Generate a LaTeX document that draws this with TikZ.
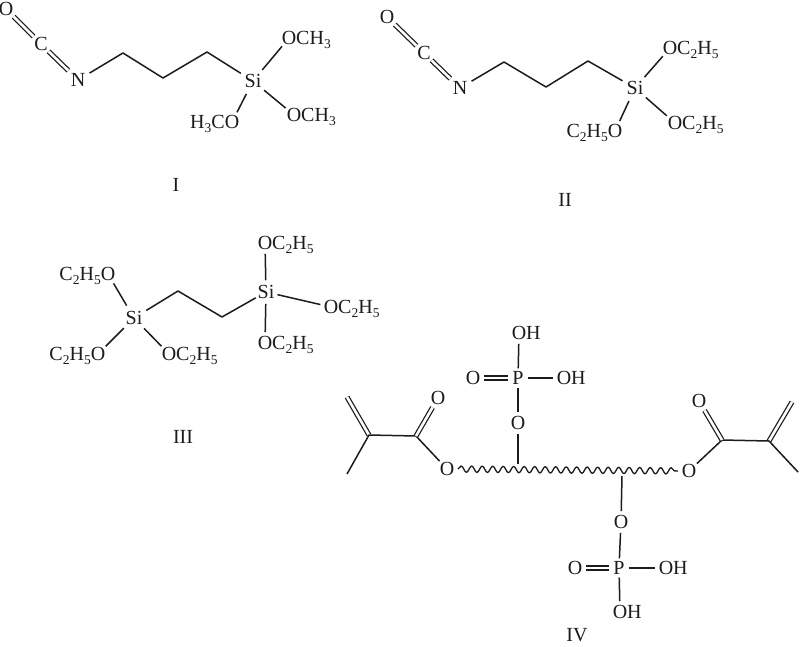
\documentclass[tikz,border=0pt]{standalone}
\usepackage{fontspec}
\setmainfont{Liberation Serif}
\usetikzlibrary{decorations.pathmorphing}
\newcommand{\sbs}[1]{\raisebox{-3.6pt}[0pt][0pt]{\fontsize{13.5}{14}\selectfont #1}}
\newcommand{\ethR}{\rlap{C\sbs{2}H\sbs{5}}}
\newcommand{\ethL}{\llap{C\sbs{2}H\sbs{5}}}
\tikzset{
  atom/.style={circle,inner sep=0.6pt,font=\fontsize{20}{20}\selectfont,text=ink},
  siatom/.style={atom,inner sep=2.5pt},
  tag/.style={inner sep=0pt,font=\fontsize{20}{20}\selectfont,text=ink},
  bond/.style={draw=ink,line width=1.5pt,line join=round},
  dbl/.style={draw=ink,line width=1.25pt,double=white,double distance=2.6pt},
  wavy/.style={draw=ink,line width=1.3pt,line join=round,decorate,decoration={snake,segment length=10.5pt,amplitude=3.2pt}}
}
\definecolor{ink}{HTML}{1C1C1C}
\begin{document}
\begin{tikzpicture}[x=1pt,y=-1pt]
\useasboundingbox[fill=white] (0,0) rectangle (800,646);
% I
\node[atom] (o1) at (6,9) {O};
\node[atom] (c1) at (41,44) {C};
\node[siatom] (n1) at (78,80) {N};
\node[siatom] (si1) at (253,81) {Si};
\node[atom] (o1a) at (289,38) {O\rlap{CH\sbs{3}}};
\node[atom] (o1b) at (294,115) {O\rlap{CH\sbs{3}}};
\node[atom] (o1c) at (232,122) {\llap{H\sbs{3}C}O};
\coordinate (a1) at (123,53);
\coordinate (a2) at (163,78);
\coordinate (a3) at (207,52);
\draw[dbl] (o1) -- (c1);
\draw[dbl] (c1) -- (n1);
\draw[bond] (n1) -- (a1) -- (a2) -- (a3) -- (si1);
\draw[bond] (si1) -- (o1a);
\draw[bond] (si1) -- (o1b);
\draw[bond] (si1) -- (o1c);
\node[tag] (lab1) at (176,185) {I};
% II
\node[atom] (o2) at (387,17) {O};
\node[atom] (c2) at (424,53) {C};
\node[siatom] (n2) at (460,88) {N};
\node[siatom] (si2) at (635,88) {Si};
\node[atom] (o2a) at (670,48) {O\ethR};
\node[atom] (o2b) at (675,123) {O\ethR};
\node[atom] (o2c) at (615,131) {\ethL O};
\coordinate (b1) at (504,62);
\coordinate (b2) at (546,87);
\coordinate (b3) at (588,61);
\draw[dbl] (o2) -- (c2);
\draw[dbl] (c2) -- (n2);
\draw[bond] (n2) -- (b1) -- (b2) -- (b3) -- (si2);
\draw[bond] (si2) -- (o2a);
\draw[bond] (si2) -- (o2b);
\draw[bond] (si2) -- (o2c);
\node[tag] (lab2) at (565,200) {II};
% III
\node[siatom] (si3) at (134,318) {Si};
\node[atom] (si4) at (266,292) {Si};
\node[atom] (o3a) at (108,274) {\ethL O};
\node[atom] (o3b) at (98,354) {\ethL O};
\node[atom] (o3c) at (169,354) {O\ethR};
\node[atom] (o4a) at (265,243) {O\ethR};
\node[atom] (o4b) at (331,307) {O\ethR};
\node[atom] (o4c) at (265,343) {O\ethR};
\coordinate (d1) at (178,291);
\coordinate (d2) at (222,317);
\draw[bond] (si3) -- (d1) -- (d2) -- (si4);
\draw[bond] (si3) -- (o3a);
\draw[bond] (si3) -- (o3b);
\draw[bond] (si3) -- (o3c);
\draw[bond] (si4) -- (o4a);
\draw[bond] (si4) -- (o4b);
\draw[bond] (si4) -- (o4c);
\node[tag] (lab3) at (183,437) {III};
% IV left
\coordinate (v1) at (347,397);
\coordinate (v2) at (369,435);
\coordinate (v3) at (347,474);
\coordinate (v4) at (416,436);
\node[atom] (ocl) at (438,398) {O};
\node[atom] (oel) at (447,469) {O};
\draw[dbl] (v1) -- (v2);
\draw[bond] (v3) -- (v2) -- (v4) -- (oel);
\draw[dbl] (v4) -- (ocl);
\node[atom] (p1) at (518,378) {P};
\node[atom] (h1a) at (519,333) {O\rlap{H}};
\node[atom] (h1b) at (564,378) {O\rlap{H}};
\node[atom] (o1d) at (473,378) {O};
\node[atom] (o1e) at (518,423) {O};
\coordinate (w1) at (518,464);
\draw[bond] (p1) -- (h1a);
\draw[bond] (p1) -- (h1b);
\draw[dbl] (p1) -- (o1d);
\draw[bond] (p1) -- (o1e);
\draw[bond] (o1e) -- (w1);
% IV right
\coordinate (r1) at (792,402);
\coordinate (r2) at (769,441);
\coordinate (r3) at (798,472);
\coordinate (r4) at (722,440);
\node[atom] (ocr) at (699,401) {O};
\node[atom] (oer) at (689,471) {O};
\draw[dbl] (r1) -- (r2);
\draw[bond] (r3) -- (r2) -- (r4) -- (oer);
\draw[dbl] (r4) -- (ocr);
\draw[wavy] (oel) -- (oer);
\coordinate (w2) at (622,476);
\node[atom] (o2e) at (621,522) {O};
\node[atom] (p2) at (619,568) {P};
\node[atom] (o2d) at (575,568) {O};
\node[atom] (h2a) at (666,568) {O\rlap{H}};
\node[atom] (h2b) at (620,612) {O\rlap{H}};
\draw[bond] (w2) -- (o2e);
\draw[bond] (o2e) -- (p2);
\draw[dbl] (p2) -- (o2d);
\draw[bond] (p2) -- (h2a);
\draw[bond] (p2) -- (h2b);
\node[tag] (lab4) at (577,635) {IV};
\end{tikzpicture}
\end{document}
